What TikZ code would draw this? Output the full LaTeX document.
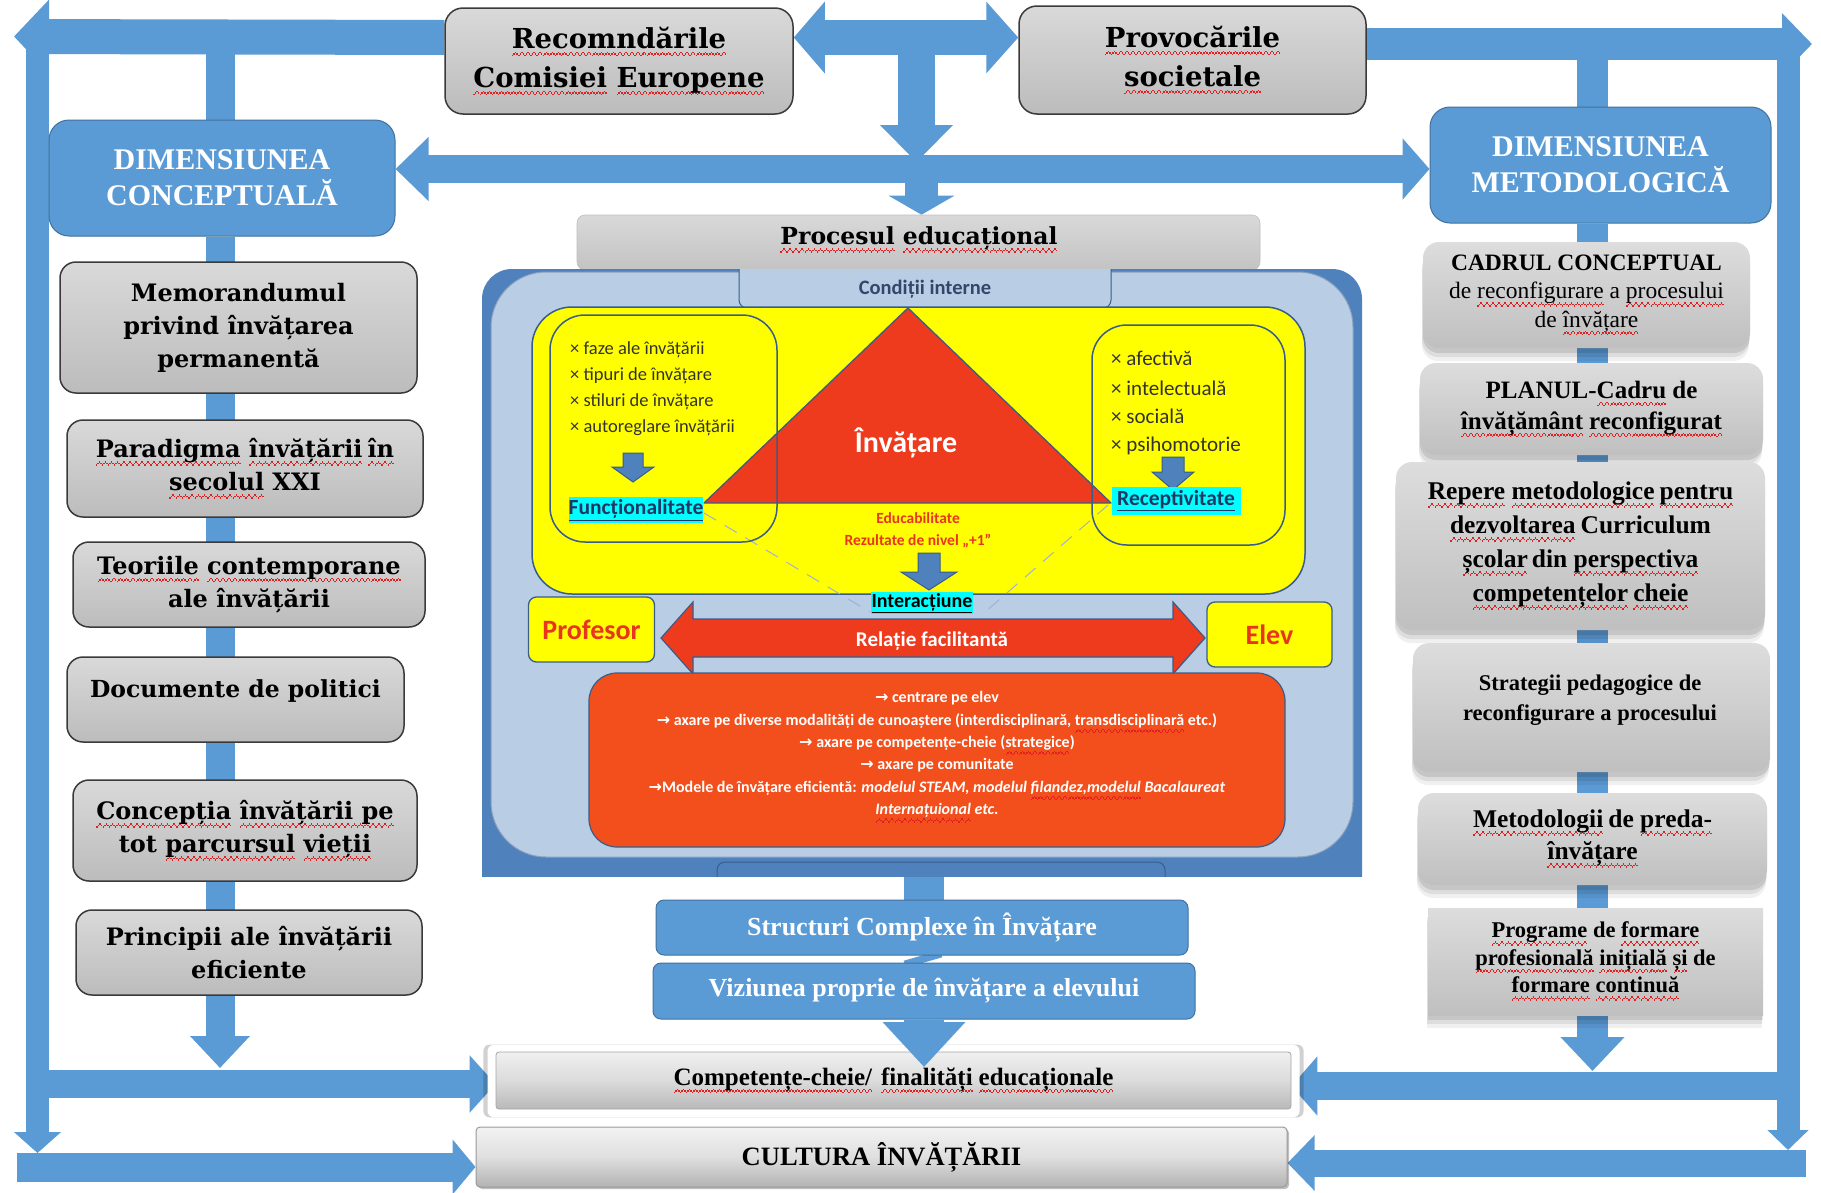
\documentclass[tikz,border=0pt]{standalone}
\usepackage{fontspec}
\usetikzlibrary{arrows.meta,shadows}
\setmainfont{Liberation Serif}
\newfontfamily\dvs{DejaVu Serif}
\newfontfamily\crl{Carlito}
\newfontfamily\djs{DejaVu Sans}
\definecolor{blu}{HTML}{5B9BD5}
\definecolor{dkblu}{HTML}{41719C}
\definecolor{imgblue}{HTML}{4F81BD}
\definecolor{lightblu}{HTML}{B9CDE5}
\definecolor{navy}{HTML}{385D8A}
\definecolor{tri}{HTML}{EE3B1D}
\definecolor{orng}{HTML}{F24F1C}
\definecolor{wvred}{HTML}{E02020}
\definecolor{txtred}{HTML}{E8361E}
\definecolor{boxedge}{HTML}{3A3A3A}
\definecolor{grayTop}{HTML}{D9D9D9}
\definecolor{grayBot}{HTML}{BCBCBC}
\definecolor{itemtxt}{HTML}{333333}
\definecolor{tabtxt}{HTML}{34476A}
\definecolor{fnavy}{HTML}{1F3864}
\definecolor{dashc}{HTML}{9DB3CF}
\definecolor{ylw}{HTML}{FFFF00}
\definecolor{cyn}{HTML}{00FFFF}
% red wavy (spell-check) underline drawn with small rules
\newcommand\wavepiece{\hbox{\rule[-8pt]{1.5pt}{1.5pt}\rule[-6.5pt]{1.5pt}{1.5pt}\rule[-5pt]{1.5pt}{1.5pt}\rule[-6.5pt]{1.5pt}{1.5pt}}}
\newcommand\rw[1]{\setbox0=\hbox{#1}\leavevmode\rlap{\hbox to \wd0{\color{wvred}\xleaders\wavepiece\hfill}}\box0\relax}
\pgfdeclarelayer{bg}
\pgfdeclarelayer{fg}
\pgfsetlayers{bg,main,fg}
\begin{document}
\begin{tikzpicture}[x=1pt,y=-1pt,
  tbox/.style={draw=boxedge, line width=1.5pt, rounded corners=18pt, top color=grayTop, bottom color=grayBot, inner sep=0pt, align=center, font=\dvs\bfseries\fontsize{27.5}{39}\selectfont},
  lbox/.style={draw=boxedge, line width=1.5pt, rounded corners=16pt, top color=grayTop, bottom color=grayBot, inner sep=0pt, align=center, font=\dvs\bfseries\fontsize{24}{33}\selectfont},
  rbox/.style={rounded corners=16pt, top color=grayTop!90!white, bottom color=grayBot!95!white, inner sep=0pt, align=center,
     drop shadow={shadow xshift=-1pt, shadow yshift=-13pt, opacity=.06, fill=black},
     drop shadow={shadow xshift=-1pt, shadow yshift=-9pt, opacity=.08, fill=black},
     drop shadow={shadow xshift=0pt, shadow yshift=-5pt, opacity=.10, fill=black}},
  dimbox/.style={fill=blu, draw=dkblu, line width=1pt, rounded corners=20pt, text=white, inner sep=0pt, align=center, font=\bfseries\fontsize{30}{36}\selectfont},
  sbox/.style={fill=blu, draw=dkblu, line width=1pt, rounded corners=8pt, text=white, inner sep=0pt, align=center, font=\bfseries\fontsize{26}{28}\selectfont},
  item/.style={font=\crl\fontsize{18.5}{18.5}\selectfont, text=itemtxt, anchor=base west, inner sep=0pt},
  ritem/.style={font=\crl\fontsize{21}{21}\selectfont, text=itemtxt, anchor=base west, inner sep=0pt},
  ybox/.style={fill=ylw, draw=navy, line width=1.3pt, rounded corners=8pt, inner sep=0pt, text=txtred, font=\crl\bfseries\fontsize{28}{28}\selectfont},
  hl/.style={fill=cyn, inner sep=0pt, font=\crl\bfseries\fontsize{21.5}{21.5}\selectfont, text=fnavy},
  barrow/.style={blu}
]
\begin{pgfonlayer}{bg}
\fill[white] (0,0) rectangle (1821,1192);
\end{pgfonlayer}
\useasboundingbox (0,0) rectangle (1821,1192);

% ---------- coordinates ----------
\coordinate (tlTip) at (14,36.5);
\coordinate (lvTop) at (37.5,48);
\coordinate (lvTip) at (37.5,1153);
\coordinate (trTip) at (1812,44);
\coordinate (rvTop) at (1788,56);
\coordinate (rvTip) at (1788,1150);
\coordinate (tlBand) at (220,50);
\coordinate (trBand) at (1592.5,56);
\coordinate (mainY) at (0,169);
\coordinate (topY) at (0,37.5);
\coordinate (topBY) at (0,44);
\coordinate (dnTop) at (916.5,52);
\coordinate (dnTip) at (916.5,162);
\coordinate (dn2Top) at (921.5,180);
\coordinate (imgBot) at (923.5,874);
\coordinate (lcTip) at (220,1068);
\coordinate (rcTip) at (1592.5,1071);
\coordinate (blStart) at (49,1084);
\coordinate (brStart) at (1777,1086);
\coordinate (clStart) at (17,1167);
\coordinate (crStart) at (1806,1163);
\coordinate (vzTip) at (924,1067);

% ---------- top boxes ----------
\node[tbox, minimum width=348pt, minimum height=106pt] (recom) at (619,61) {\rw{Recomndările}\\\rw{Comisiei} \rw{Europene}};
\node[tbox, minimum width=347pt, minimum height=108pt] (provoc) at (1192.5,60) {\rw{Provocările}\\\rw{societale}};

% ---------- dimension boxes ----------
\node[dimbox, minimum width=346pt, minimum height=116pt] (DC) at (222,178) {DIMENSIUNEA\\CONCEPTUALĂ};
\node[dimbox, minimum width=341pt, minimum height=116pt] (DM) at (1600.5,165) {DIMENSIUNEA\\METODOLOGICĂ};

% ---------- left column ----------
\node[lbox, minimum width=357pt, minimum height=131pt] (memo) at (238.5,327.5) {Memorandumul\\privind învățarea\\permanentă};
\node[lbox, minimum width=356pt, minimum height=97pt] (para) at (245,468.5) {\rw{Paradigma} \rw{învățării}\hspace{5pt}\rw{în}\\\rw{secolul} XXI};
\node[lbox, minimum width=352pt, minimum height=85pt] (teor) at (249,584.5) {\rw{Teoriile} \rw{contemporane}\\ale învățării};
\node[lbox, minimum width=337pt, minimum height=85pt] (docu) at (235.5,699.5) {};
\node[font=\dvs\bfseries\fontsize{23.5}{33}\selectfont, inner sep=0pt] (docuT) at (235.5,691) {Documente de politici};
\node[lbox, minimum width=344pt, minimum height=101pt] (conc) at (245,830.5) {\rw{Concepția} \rw{învățării pe}\\tot \rw{parcursul} \rw{vieții}};
\node[lbox, minimum width=346pt, minimum height=85pt] (prin) at (249,952.5) {Principii ale învățării\\eficiente};

% ---------- right column ----------
\node[rbox, minimum width=327pt, minimum height=106pt, font=\fontsize{23.5}{28.5}\selectfont] (cadru) at (1586.5,295) {{\bfseries CADRUL CONCEPTUAL}\\de \rw{reconfigurare} a \rw{procesului}\\de \rw{învățare}};
\node[rbox, minimum width=343pt, minimum height=92pt, font=\bfseries\fontsize{25}{31}\selectfont] (plan) at (1591.5,409) {PLANUL-\rw{Cadru} de\\\rw{învățământ}\hspace{6pt}\rw{reconfigurat}};
\node[rbox, minimum width=369pt, minimum height=168pt, font=\bfseries\fontsize{25.5}{34}\selectfont] (repere) at (1580.5,546) {\rw{Repere} \rw{metodologice}\hspace{5pt}\rw{pentru}\\\rw{dezvoltarea}\hspace{5pt}Curriculum\\\rw{școlar}\hspace{4pt}din \rw{perspectiva}\\\rw{competențelor}\hspace{5pt}\rw{cheie}};
\node[rbox, minimum width=357pt, minimum height=129pt] (strat) at (1591.5,707.5) {};
\node[font=\bfseries\fontsize{22.5}{30}\selectfont, align=center, inner sep=0pt] (stratT) at (1590,700) {Strategii pedagogice de\\reconfigurare a procesului};
\node[rbox, minimum width=349pt, minimum height=92pt, font=\bfseries\fontsize{25.5}{32}\selectfont] (metod) at (1592.5,839) {\rw{Metodologii}\hspace{5pt}de \rw{preda-}\\\rw{învățare}};
\node[rbox, rounded corners=0pt, minimum width=335pt, minimum height=107pt, font=\bfseries\fontsize{22.5}{27.5}\selectfont] (progr) at (1595.5,961.5) {\rw{Programe} de \rw{formare}\\\rw{profesională} \rw{inițială} \rw{și} de\\\rw{formare} \rw{continuă}};

% ---------- centre column ----------
\node[top color=grayTop, bottom color=grayBot!90!white, draw=gray!50, line width=0.6pt, rounded corners=8pt, minimum width=683pt, minimum height=55pt, inner sep=0pt] (proc) at (918.5,242.5) {};
\node[font=\dvs\bfseries\fontsize{23.5}{26}\selectfont, inner sep=0pt] (procT) at (919,240) {\rw{Procesul} \rw{educațional}};

% central picture
\begin{scope}
\clip (470,269) rectangle (1375,876);
\fill[imgblue, rounded corners=30pt] (482,269) rectangle (1362,930);
\draw[fill=lightblu, draw=navy!60, line width=1pt, rounded corners=55pt] (491,272) rectangle (1353,857);
\draw[fill=imgblue, draw=navy, line width=1pt, rounded corners=8pt] (717,900) rectangle (1165,862);
\draw[fill=lightblu, draw=navy, line width=1pt, rounded corners=8pt] (739,240) rectangle (1111,308);
\end{scope}
\node[font=\crl\bfseries\fontsize{20.5}{21}\selectfont, text=tabtxt, inner sep=0pt] (intT) at (925,289) {Condiții interne};

\draw[fill=ylw, draw=navy, line width=1.5pt, rounded corners=40pt] (532,307) rectangle (1305,594);
\draw[dashc, line width=1pt, dash pattern=on 14pt off 10pt] (704,513) -- (870,612);
\draw[dashc, line width=1pt, dash pattern=on 14pt off 10pt] (1108,505) -- (985,612);
\draw[fill=tri, draw=navy, line width=1.3pt, line join=round] (908,308) -- (1111,503) -- (704,503) -- cycle;
\draw[navy, line width=1.5pt, rounded corners=35pt] (550,315) rectangle (777,542);
\draw[navy, line width=1.5pt, rounded corners=35pt] (1092,325) rectangle (1285,545);

\node[item] (li1) at (570,354) {× faze ale învățării};
\node[item] (li2) at (570,380) {× tipuri de învățare};
\node[item] (li3) at (570,406) {× stiluri de învățare};
\node[item] (li4) at (570,432) {× autoreglare învățării};
\node[ritem] (ri1) at (1111,365) {× afectivă};
\node[ritem] (ri2) at (1111,395) {× intelectuală};
\node[ritem] (ri3) at (1111,423) {× socială};
\node[ritem] (ri4) at (1111,451) {× psihomotorie};

\draw[fill=imgblue, draw=navy, line width=1pt] (623,453) -- (643,453) -- (643,467) -- (654,467) -- (633,482) -- (612,467) -- (623,467) -- cycle;
\draw[fill=imgblue, draw=navy, line width=1pt] (1162,457) -- (1184,457) -- (1184,472) -- (1194,472) -- (1173,490) -- (1152,472) -- (1162,472) -- cycle;

\node[hl, minimum width=132pt, minimum height=26pt] (func) at (636,510) {\underline{Funcționalitate}};
\node[hl, minimum width=129pt, minimum height=28pt] (recep) at (1176,501) {\underline{Receptivitate}};

\node[text=white, font=\crl\bfseries\fontsize{30}{30}\selectfont, inner sep=0pt] (inv) at (906,443) {Învățare};
\node[text=txtred, font=\crl\bfseries\fontsize{15.5}{15.5}\selectfont, inner sep=0pt] (educ) at (918,518) {Educabilitate};
\node[text=txtred, font=\crl\bfseries\fontsize{15.5}{15.5}\selectfont, inner sep=0pt] (rez) at (918,541) {Rezultate de nivel „+1”};
\draw[fill=imgblue, draw=navy, line width=1pt] (918,553) -- (940,553) -- (940,572) -- (957,572) -- (929,590) -- (901,572) -- (918,572) -- cycle;

\node[fill=cyn, inner sep=1pt, font=\crl\bfseries\fontsize{20}{20}\selectfont, text=black] (inter) at (922,603) {\underline{Interacțiune}};

\node[ybox, minimum width=126pt, minimum height=65pt] (prof) at (591.5,629.5) {Profesor};
\node[ybox, minimum width=125pt, minimum height=65pt] (elev) at (1269.5,634.5) {Elev};
\draw[fill=tri, draw=navy, line width=1.2pt] (661,638) -- (693,602) -- (693,619) -- (1173,619) -- (1173,602) -- (1205,638) -- (1173,674) -- (1173,657) -- (693,657) -- (693,674) -- cycle;
\node[text=white, font=\crl\bfseries\fontsize{21}{21}\selectfont, inner sep=0pt] (relT) at (932,641) {Relație facilitantă};

\draw[fill=orng, draw=navy, line width=1.2pt, rounded corners=28pt] (589,673) rectangle (1285,847);
\node[text=white, align=center, inner sep=0pt, font=\crl\bfseries\fontsize{16}{22.4}\selectfont] (orT) at (937,757) {%
{\djs →} centrare pe elev\\
{\djs →} axare pe diverse modalități de cunoaștere (interdisciplinară, \rw{transdisciplinară} etc.)\\
{\djs →} axare pe competențe-cheie (\rw{strategice})\\
{\djs →} axare pe comunitate\\
{\djs →}Modele de învățare eficientă: \textit{modelul STEAM, modelul \rw{filandez,modelul} Bacalaureat}\\
\textit{\rw{Internațuional} etc.}};

\node[sbox, minimum width=532pt, minimum height=55pt] (struct) at (922,927.5) {Structuri Complexe în Învățare};
\node[sbox, minimum width=542pt, minimum height=56pt] (viz) at (924,991) {Viziunea proprie de învățare a elevului};

% bottom boxes
\node[fill=white, rounded corners=6pt, minimum width=812pt, minimum height=72pt, drop shadow={shadow xshift=0pt, shadow yshift=0pt, opacity=.18, fill=black, shadow scale=1.01}] (compG) at (893.5,1081) {};
\node[draw=gray!70, line width=0.8pt, rounded corners=3pt, top color=gray!12, bottom color=gray!55, middle color=gray!28, minimum width=795pt, minimum height=57pt, inner sep=0pt, font=\bfseries\fontsize{25}{28}\selectfont] (comp) at (893.5,1080.5) {\rw{Competențe-cheie/}\hspace{9pt}\rw{finalități}\hspace{6pt}\rw{educaționale}};
\node[draw=gray!80, line width=1pt, rounded corners=4pt, top color=gray!10, bottom color=gray!60, middle color=gray!25, minimum width=811pt, minimum height=60pt, inner sep=0pt, font=\bfseries\fontsize{26.5}{28}\selectfont,
  drop shadow={shadow xshift=2pt, shadow yshift=-2pt, opacity=.25, fill=black}] (cult) at (881.5,1157) {CULTURA ÎNVĂȚĂRII};

% ---------- block arrows ----------
\begin{pgfonlayer}{bg}
\draw[barrow, line width=35pt, -{Triangle[width=72pt,length=35pt]}] (recom.west |- topY) -- (tlTip);
\draw[barrow, line width=23pt, -{Triangle[width=46pt,length=21pt]}] (lvTop) -- (lvTip);
\draw[barrow, line width=32pt, -{Triangle[width=60pt,length=30pt]}] (provoc.east |- topBY) -- (trTip);
\draw[barrow, line width=23pt, -{Triangle[width=40pt,length=20pt]}] (rvTop) -- (rvTip);
\draw[barrow, line width=29pt] (tlBand) -- (DC.north -| tlBand);
\draw[barrow, line width=31pt] (trBand) -- (DM.north -| trBand);
\draw[barrow, line width=35pt, {Triangle[width=70pt,length=31pt]}-{Triangle[width=70pt,length=32pt]}] (recom.east |- topY) -- (provoc.west |- topY);
\draw[barrow, line width=28pt, {Triangle[width=62pt,length=33pt]}-{Triangle[width=60pt,length=27pt]}] (DC.east |- mainY) -- (DM.west |- mainY);
\draw[barrow, line width=37pt, -{Triangle[width=71pt,length=37pt]}] (dnTop) -- (dnTip);
\draw[barrow, line width=33pt, -{Triangle[width=65pt,length=19pt]}] (dn2Top) -- (proc.north -| dn2Top);
\draw[barrow, line width=29pt, -{Triangle[width=58pt,length=32pt]}] (DC.south -| lcTip) -- (lcTip);
\draw[barrow, line width=31pt, -{Triangle[width=62pt,length=34pt]}] (DM.south -| rcTip) -- (rcTip);
\draw[barrow, line width=40pt] (imgBot) -- (struct.north -| imgBot);
\draw[barrow, line width=38pt] (struct.south) -- (viz.north);
\draw[barrow, line width=28pt, -{Triangle[width=56pt,length=26pt]}] (blStart) -- (comp.west |- blStart);
\draw[barrow, line width=28pt, -{Triangle[width=58pt,length=26pt]}] (brStart) -- (comp.east |- brStart);
\draw[barrow, line width=29pt, -{Triangle[width=54pt,length=23pt]}] (clStart) -- (cult.west |- clStart);
\draw[barrow, line width=27pt, -{Triangle[width=54pt,length=27pt]}] (crStart) -- (cult.east |- crStart);
\end{pgfonlayer}
\begin{pgfonlayer}{fg}
\draw[barrow, line width=40pt, -{Triangle[width=80pt,length=45pt]}] (viz.south -| vzTip) -- (vzTip);
\end{pgfonlayer}
\end{tikzpicture}
\end{document}
